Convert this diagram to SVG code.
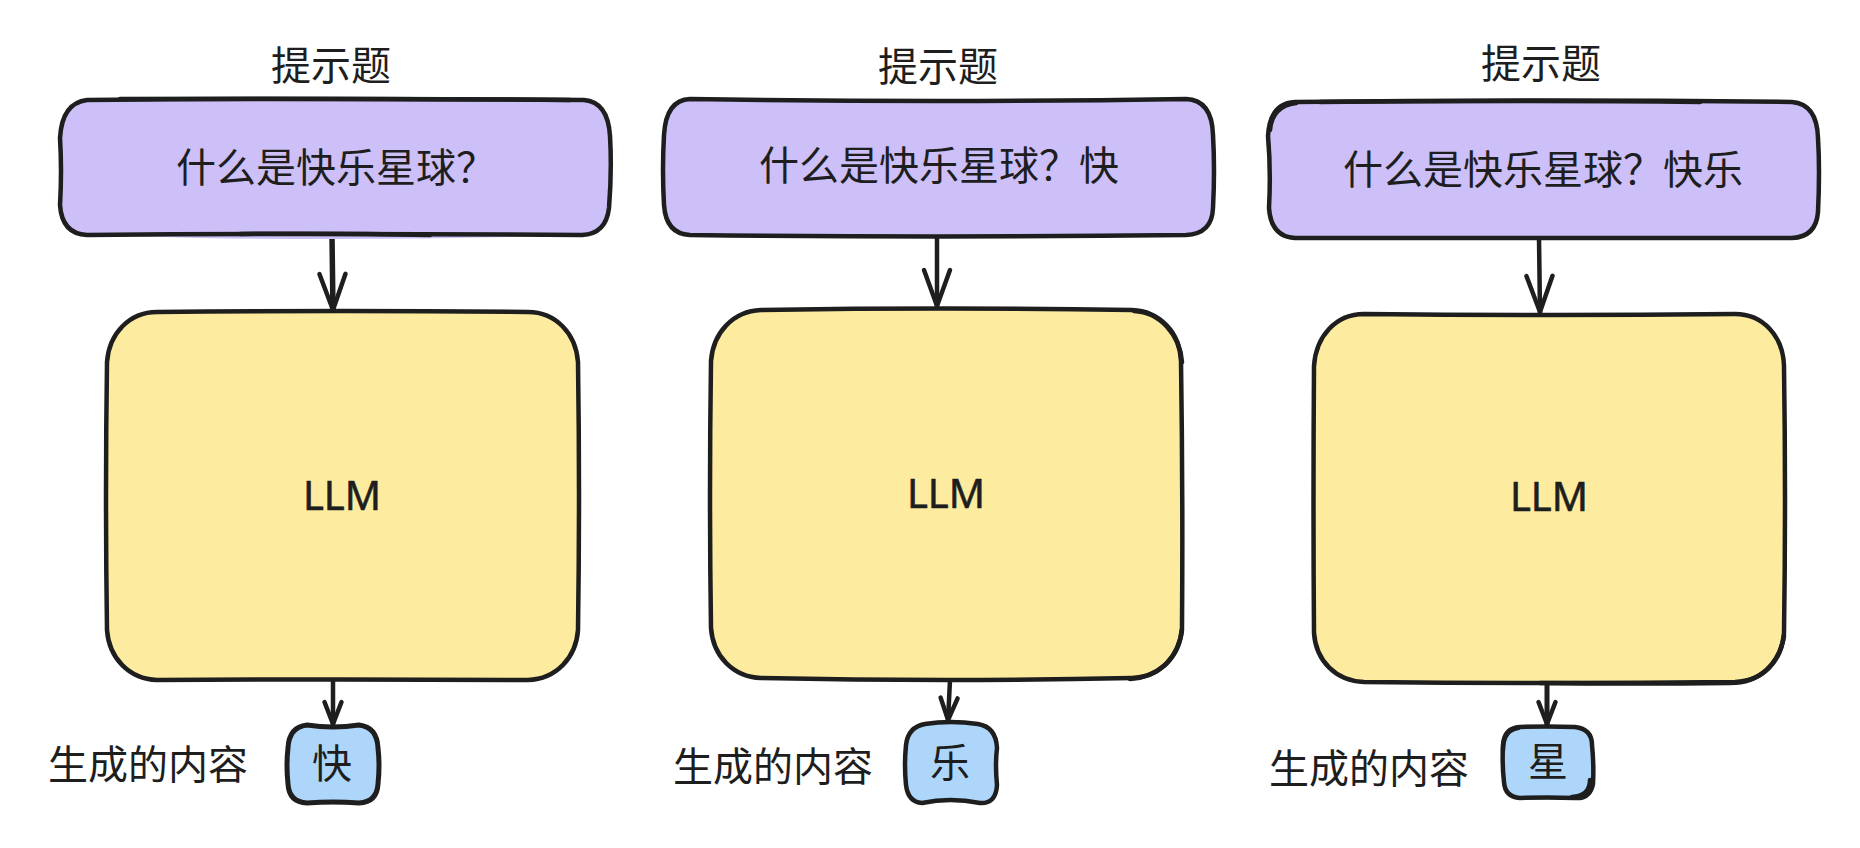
<svg xmlns="http://www.w3.org/2000/svg" width="1860" height="848" viewBox="0 0 1860 848">
<defs>
<style>
text{font-family:"Noto Sans CJK SC","Noto Sans",sans-serif;font-size:40px;fill:#1e1e1e}
.latin{font-family:"Noto Sans","Noto Sans CJK SC",sans-serif;stroke:#1e1e1e;stroke-width:.6;stroke-linejoin:round}
.outline{fill:none;stroke:#1e1e1e;stroke-width:4.5;stroke-linecap:round;stroke-linejoin:round}
.purple{fill:#cdc0f8}
.yellow{fill:#fdeca0}
.blue{fill:#aed6fb}
.wire{fill:none;stroke:#1e1e1e;stroke-width:4.5;stroke-linecap:round}
.head{fill:none;stroke:#1e1e1e;stroke-width:4.5;stroke-linecap:round;stroke-linejoin:miter}
</style>
<marker id="arrow-long" markerUnits="userSpaceOnUse" markerWidth="80" markerHeight="60" refX="40" refY="30" orient="auto" overflow="visible"><path class="head" d="M3 17L39 30L3 43"/></marker>
<marker id="arrow-short" markerUnits="userSpaceOnUse" markerWidth="60" markerHeight="40" refX="40" refY="20" orient="auto" overflow="visible"><path class="head" d="M17 11.5L39 20L17 28.5"/></marker>
</defs>
<rect width="1860" height="848" fill="#ffffff"/>

<g id="connectors">
<path class="wire" style="stroke-width:5.5" marker-end="url(#arrow-long)" d="M332 236L333 311"/>
<path class="wire" marker-end="url(#arrow-short)" d="M333 680L333 725"/>
<path class="wire" marker-end="url(#arrow-long)" d="M937 236L937 307"/>
<path class="wire" marker-end="url(#arrow-short)" d="M950 680L948 721"/>
<path class="wire" marker-end="url(#arrow-long)" d="M1539 238L1540 313"/>
<path class="wire" style="stroke-width:5" marker-end="url(#arrow-short)" d="M1547 683L1547 725"/>
</g>

<g id="title-1"><text x="271" y="80">提示题</text></g>
<g id="prompt-1">
<path class="purple" d="M87 100Q335 97 584 100Q610 102 610 136Q612 170 609 208Q606 234 582 235Q400 241 200 238Q120 236 87 235Q62 234 60 205Q62 170 60 138Q62 103 87 100Z"/>
<path class="outline" d="M87 100Q335 98 584 100Q608 102 610 136Q612 170 609 208Q606 234 582 235Q335 233 87 235Q62 234 60 205Q62 170 60 138Q62 103 87 100Z"/>
<path class="outline" d="M120 99Q335 98 570 100M240 234Q335 233 430 235"/>
<text x="176" y="182">什么是快乐星球？</text>
</g>
<g id="llm-1">
<path class="yellow" d="M157 312Q342 310 528 312C556 312 576 334 578 362Q581 496 578 630C576 658 556 679 528 680Q342 679 157 680C129 679 109 658 107 630Q104 496 107 362C109 334 129 312 157 312Z"/>
<path class="outline" d="M157 312Q342 310 528 312C556 312 576 334 578 362Q580 496 578 630C576 658 556 679 528 680Q342 679 157 680C129 679 109 658 107 630Q105 496 107 362C109 334 129 312 157 312Z"/>
<text class="latin" x="342" y="510" text-anchor="middle">LLM</text>
</g>
<g id="label-1"><text x="48" y="779">生成的内容</text></g>
<g id="output-1">
<path class="blue" d="M307 725Q333 729 359 725Q377 727 378 748Q380 765 378 784Q377 802 359 803Q333 806 307 803Q289 802 288 784Q286 765 288 748Q289 727 307 725Z"/>
<path class="outline" style="stroke-width:5" d="M307 725Q333 729 359 725Q377 727 378 748Q380 765 378 784Q377 802 359 803Q333 801 307 803Q289 802 288 784Q286 765 288 748Q289 727 307 725Z"/>
<text x="312" y="778">快</text>
</g>

<g id="title-2"><text x="878" y="81">提示题</text></g>
<g id="prompt-2">
<path class="purple" d="M690 99Q938 103 1186 99Q1212 100 1213 135Q1215 170 1213 208Q1212 234 1186 235Q938 238 690 235Q666 234 664 205Q662 170 664 135Q666 100 690 99Z"/>
<path class="outline" d="M690 99Q938 103 1186 99Q1212 100 1213 135Q1215 170 1213 208Q1212 234 1186 235Q938 238 690 235Q666 234 664 205Q662 170 664 135Q666 100 690 99Z"/>
<text x="759" y="180">什么是快乐星球？快</text>
</g>
<g id="llm-2">
<path class="yellow" d="M761 310Q946 307 1132 310C1160 311 1180 333 1181 361Q1183 494 1182 628C1180 656 1160 677 1132 678Q946 682 761 678C733 677 713 656 711 628Q709 494 711 361C713 333 733 311 761 310Z"/>
<path class="outline" d="M761 310Q946 307 1132 310C1160 311 1180 333 1181 361Q1183 494 1182 628C1180 656 1160 677 1132 678Q946 682 761 678C733 677 713 656 711 628Q709 494 711 361C713 333 733 311 761 310Z"/>
<path class="outline" d="M1134 311C1160 312 1180 335 1182 362M1182 630C1178 660 1158 677 1130 679"/>
<text class="latin" x="946" y="508" text-anchor="middle">LLM</text>
</g>
<g id="label-2"><text x="673" y="781">生成的内容</text></g>
<g id="output-2">
<path class="blue" d="M925 724Q950 720 978 724Q996 727 997 748Q995 765 997 785Q996 804 980 803Q950 797 922 803Q908 802 906 785Q904 765 906 745Q908 727 925 724Z"/>
<path class="outline" d="M925 724Q950 720 978 724Q996 727 997 748Q995 765 997 785Q996 804 980 803Q950 797 922 803Q908 802 906 785Q904 765 906 745Q908 727 925 724Z"/>
<text x="930" y="777">乐</text>
</g>

<g id="title-3"><text x="1481" y="78">提示题</text></g>
<g id="prompt-3">
<path class="purple" d="M1295 102Q1540 98 1792 102Q1817 104 1818 138Q1820 170 1818 212Q1816 237 1792 238Q1540 237 1295 238Q1271 237 1269 208Q1271 170 1268 136Q1270 103 1295 102Z"/>
<path class="outline" d="M1295 102Q1540 99 1792 102Q1817 104 1818 138Q1820 170 1818 212Q1816 237 1792 238Q1540 237 1295 238Q1271 237 1269 208Q1271 170 1268 136Q1270 103 1295 102Z"/>
<path class="outline" d="M1320 102Q1540 100 1700 102M1270 130Q1272 106 1296 103"/>
<text x="1343" y="184">什么是快乐星球？快乐</text>
</g>
<g id="llm-3">
<path class="yellow" d="M1364 314Q1549 316 1735 314C1763 314 1783 336 1784 366Q1786 500 1784 633C1782 661 1763 681 1735 682Q1549 684 1364 682C1336 681 1316 661 1314 633Q1313 500 1314 366C1316 336 1336 314 1364 314Z"/>
<path class="outline" d="M1364 314Q1549 316 1735 314C1763 314 1783 336 1784 366Q1786 500 1784 633C1782 661 1763 681 1735 682Q1549 684 1364 682C1336 681 1316 661 1314 633Q1313 500 1314 366C1316 336 1336 314 1364 314Z"/>
<path class="outline" d="M1784 636C1779 664 1760 683 1730 683Q1630 684 1540 683"/>
<text class="latin" x="1549" y="511" text-anchor="middle">LLM</text>
</g>
<g id="label-3"><text x="1269" y="783">生成的内容</text></g>
<g id="output-3">
<path class="blue" d="M1520 727Q1547 726 1575 727Q1592 729 1592 745Q1594 765 1593 784Q1590 799 1575 798Q1547 801 1520 798Q1505 797 1504 782Q1502 765 1503 745Q1504 728 1520 727Z"/>
<path class="outline" d="M1520 727Q1547 726 1575 727Q1592 729 1592 745Q1594 765 1593 784Q1590 799 1575 798Q1547 797 1520 798Q1505 797 1504 782Q1502 765 1503 745Q1504 728 1520 727Z"/>
<path class="outline" d="M1503 750Q1503 730 1518 728M1590 780Q1590 796 1572 797"/>
<text x="1528" y="776">星</text>
</g>
</svg>
